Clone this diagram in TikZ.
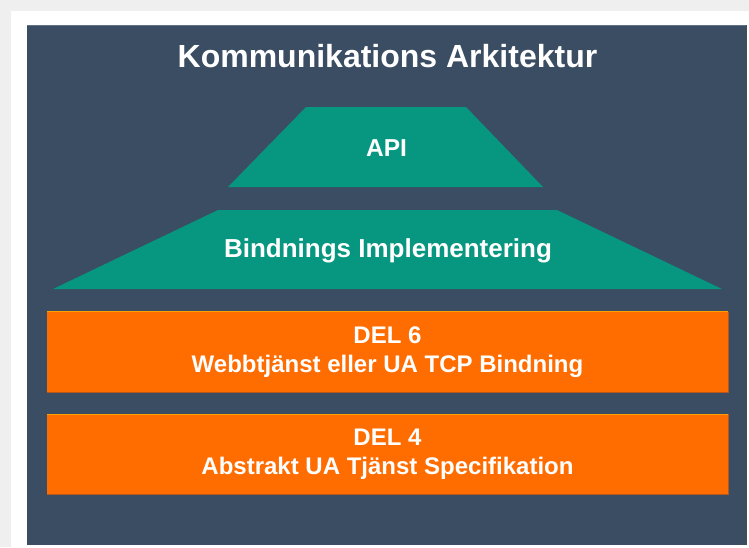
\documentclass[tikz,border=0pt]{standalone}
\usepackage{fontspec}
\setmainfont{Liberation Sans}
\definecolor{pagegrey}{HTML}{EFEFEF}
\definecolor{panelblue}{HTML}{3A4D62}
\definecolor{paneledge}{HTML}{5E7186}
\definecolor{tealfill}{HTML}{07967F}
\definecolor{orangefill}{HTML}{FF6C00}
\definecolor{orangelight}{HTML}{FFA000}
\definecolor{orangedark}{HTML}{B8561A}
\begin{document}
\begin{tikzpicture}[x=1pt,y=-1pt,
  every node/.style={text=white,font=\bfseries,inner sep=0pt},
  layerbox/.style={fill=orangefill,minimum width=681pt,minimum height=80pt,
    align=center,font=\bfseries\fontsize{24}{29}\selectfont},
  tealshape/.style={fill=tealfill}]
  % page and panel
  \useasboundingbox (0,0) rectangle (749,547);
  \fill[pagegrey] (0,0) rectangle (749,547);
  \fill[white] (11,11) rectangle (749,547);
  \fill[panelblue] (27,25) rectangle (746,545);
  \draw[paneledge,line width=0.8pt] (27,25.4) -- (746,25.4);
  \draw[black!70,line width=1pt] (746.5,25) -- (746.5,545);
  % title
  \node[anchor=base,font=\bfseries\fontsize{32}{38}\selectfont] (title) at (387.5,67) {Kommunikations Arkitektur};
  % upper trapezoid
  \fill[tealshape] (306,107) -- (466,107) -- (543,187) -- (228,187) -- cycle;
  \node[anchor=base,font=\bfseries\fontsize{24.5}{29}\selectfont] (api) at (386.5,156) {API};
  % lower trapezoid
  \fill[tealshape] (218,210) -- (557,210) -- (722,289) -- (53,289) -- cycle;
  \node[anchor=base,font=\bfseries\fontsize{26}{31}\selectfont] (binding) at (388,257) {Bindnings Implementering};
  % orange layers
  \node[layerbox] (del6) at (387.5,352) {DEL 6\\Webbtjänst eller UA TCP Bindning};
  \node[layerbox] (del4) at (387.5,454.5) {DEL 4\\Abstrakt UA Tjänst Specifikation};
  \foreach \b in {del6,del4}{
    \draw[orangelight,line width=1pt] (\b.north west) -- (\b.north east);
    \draw[orangedark,line width=1.2pt] (\b.south west) -- (\b.south east) -- (\b.north east);
  }
\end{tikzpicture}
\end{document}
